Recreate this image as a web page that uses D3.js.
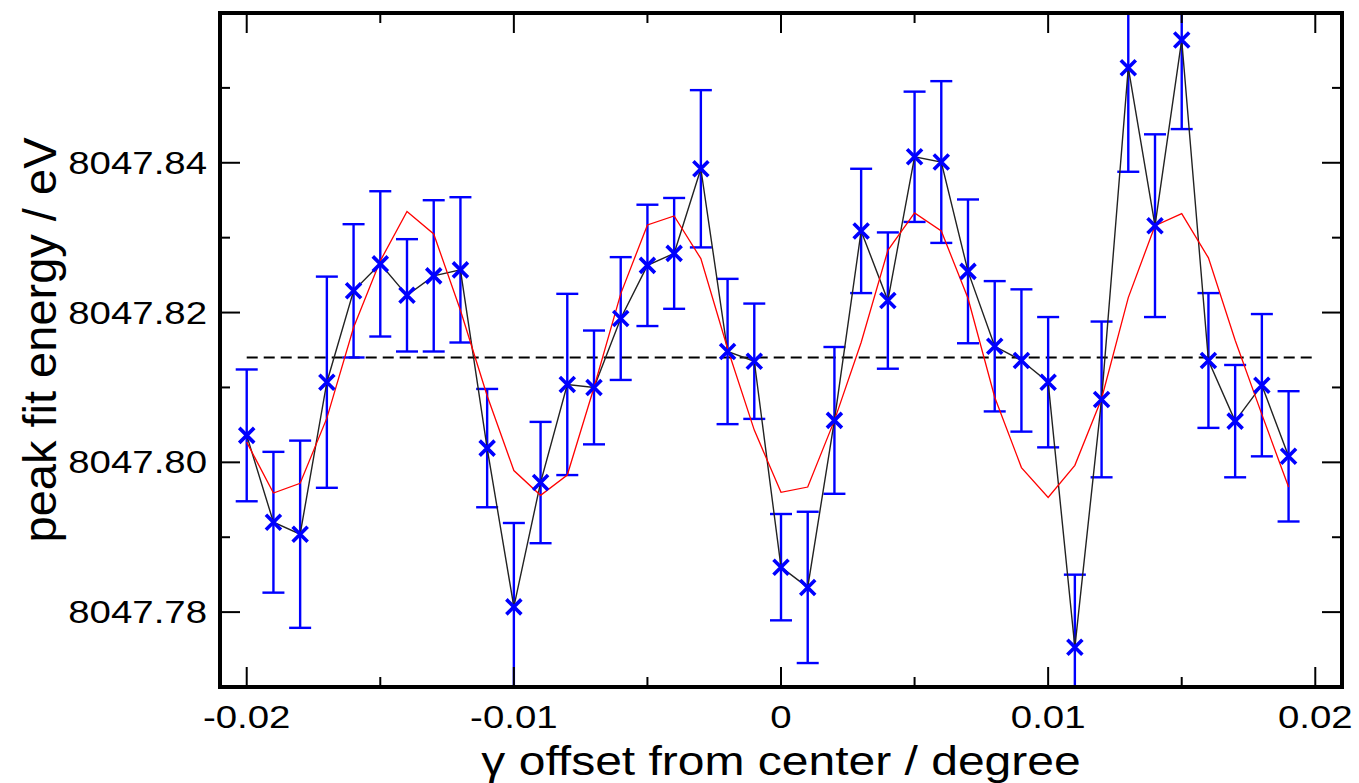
<!DOCTYPE html>
<html>
<head>
<meta charset="utf-8">
<script src="https://cdn.jsdelivr.net/npm/d3@7"></script>
<style>
  body { margin: 0; background: #fff; }
  text { font-family: "Liberation Sans", Arial, sans-serif; fill: #000; }
</style>
</head>
<body>
<script>
// ----- DATA -----
const xOffsets = [-0.020, -0.019, -0.018, -0.017, -0.016, -0.015, -0.014, -0.013, -0.012, -0.011,
  -0.010, -0.009, -0.008, -0.007, -0.006, -0.005, -0.004, -0.003, -0.002, -0.001,
  0.000, 0.001, 0.002, 0.003, 0.004, 0.005, 0.006, 0.007, 0.008, 0.009,
  0.010, 0.011, 0.012, 0.013, 0.014, 0.015, 0.016, 0.017, 0.018, 0.019];

const peakEnergy = [8047.8036, 8047.7920, 8047.7904, 8047.8107, 8047.8229, 8047.8265, 8047.8223, 8047.8249, 8047.8257, 8047.8019,
  8047.7807, 8047.7973, 8047.8104, 8047.8100, 8047.8192, 8047.8263, 8047.8279, 8047.8392, 8047.8148, 8047.8135,
  8047.7860, 8047.7833, 8047.8056, 8047.8309, 8047.8216, 8047.8408, 8047.8401, 8047.8255, 8047.8155, 8047.8136,
  8047.8107, 8047.7753, 8047.8084, 8047.8527, 8047.8316, 8047.8564, 8047.8136, 8047.8055, 8047.8103, 8047.8008];

const peakError = [0.0088, 0.0094, 0.0125, 0.0141, 0.0089, 0.0097, 0.0075, 0.0101, 0.0097, 0.0079,
  0.0112, 0.0081, 0.0121, 0.0076, 0.0082, 0.0081, 0.0074, 0.0105, 0.0097, 0.0077,
  0.0071, 0.0101, 0.0098, 0.0083, 0.0091, 0.0087, 0.0108, 0.0096, 0.0087, 0.0095,
  0.0087, 0.0097, 0.0104, 0.0139, 0.0122, 0.0119, 0.0090, 0.0075, 0.0095, 0.0087];

const fitCurve = [8047.8027, 8047.7959, 8047.7972, 8047.8059, 8047.8180, 8047.8269, 8047.8335, 8047.8305, 8047.8203, 8047.8089,
  8047.7989, 8047.7956, 8047.7983, 8047.8100, 8047.8225, 8047.8317, 8047.8329, 8047.8272, 8047.8152, 8047.8043,
  8047.7960, 8047.7967, 8047.8056, 8047.8160, 8047.8283, 8047.8333, 8047.8309, 8047.8219, 8047.8087, 8047.7993,
  8047.7953, 8047.7996, 8047.8085, 8047.8220, 8047.8316, 8047.8332, 8047.8273, 8047.8163, 8047.8064, 8047.7967];

const meanEnergy = 8047.814;
const meanRange = [-0.02, 0.02];

const xMajorTicks = [-0.02, -0.01, 0, 0.01, 0.02];
const xTickLabels = ["-0.02", "-0.01", "0", "0.01", "0.02"];
const xMinorTicks = [-0.015, -0.005, 0.005, 0.015];
const yMajorTicks = [8047.78, 8047.80, 8047.82, 8047.84];
const yTickLabels = ["8047.78", "8047.80", "8047.82", "8047.84"];
const yMinorTicks = [8047.77, 8047.79, 8047.81, 8047.83, 8047.85];

const w = 1359;
const h = 783;
const plotLeft = 220, plotRight = 1342, plotTop = 13, plotBottom = 687;
const stretch = 1.2; // tick labels in the picture are a bit wide

// ----- SCALES -----
const xScale = d3.scaleLinear().domain([-0.021, 0.021]).range([plotLeft, plotRight]);
const yScale = d3.scaleLinear().domain([8047.77, 8047.86]).range([plotBottom, plotTop]);

const points = xOffsets.map((x, i) => ({ x: x, y: peakEnergy[i], e: peakError[i], f: fitCurve[i] }));

// ----- SVG -----
const svg = d3.select("body").append("svg")
  .attr("width", w)
  .attr("height", h);

svg.append("clipPath").attr("id", "plot-clip")
  .append("rect")
  .attr("x", plotLeft).attr("y", plotTop)
  .attr("width", plotRight - plotLeft).attr("height", plotBottom - plotTop);

const plot = svg.append("g").attr("clip-path", "url(#plot-clip)");

// dashed mean line
plot.append("line")
  .attr("x1", xScale(meanRange[0])).attr("x2", xScale(meanRange[1]))
  .attr("y1", yScale(meanEnergy)).attr("y2", yScale(meanEnergy))
  .attr("stroke", "#000")
  .attr("stroke-width", 2.2)
  .attr("stroke-dasharray", "11,6");

// ----- ERROR BARS -----
const bars = plot.selectAll(".err").data(points).enter().append("g").attr("class", "err")
  .attr("stroke", "#0000ff").attr("stroke-width", 2.4).attr("fill", "none");

bars.append("line")
  .attr("x1", d => xScale(d.x)).attr("x2", d => xScale(d.x))
  .attr("y1", d => yScale(d.y - d.e)).attr("y2", d => yScale(d.y + d.e));

bars.append("line") // top cap
  .attr("x1", d => xScale(d.x) - 11).attr("x2", d => xScale(d.x) + 11)
  .attr("y1", d => yScale(d.y + d.e)).attr("y2", d => yScale(d.y + d.e));

bars.append("line") // bottom cap
  .attr("x1", d => xScale(d.x) - 11).attr("x2", d => xScale(d.x) + 11)
  .attr("y1", d => yScale(d.y - d.e)).attr("y2", d => yScale(d.y - d.e));

// ----- LINES -----
const dataLine = d3.line().x(d => xScale(d.x)).y(d => yScale(d.y));
const fitLine = d3.line().x(d => xScale(d.x)).y(d => yScale(d.f));

plot.append("path")
  .datum(points)
  .attr("d", dataLine)
  .attr("fill", "none")
  .attr("stroke", "#222")
  .attr("stroke-width", 1.4);

plot.append("path")
  .datum(points)
  .attr("d", fitLine)
  .attr("fill", "none")
  .attr("stroke", "#ff0000")
  .attr("stroke-width", 1.3);

// ----- MARKERS (x symbols) -----
const cross = 7.5;
plot.selectAll(".mark").data(points).enter().append("path")
  .attr("class", "mark")
  .attr("d", d => {
    const cx = xScale(d.x), cy = yScale(d.y);
    return "M" + (cx - cross) + "," + (cy - cross) + "L" + (cx + cross) + "," + (cy + cross) +
      "M" + (cx - cross) + "," + (cy + cross) + "L" + (cx + cross) + "," + (cy - cross);
  })
  .attr("stroke", "#0000ff")
  .attr("stroke-width", 3.6)
  .attr("fill", "none");

// ----- TICKS (inward, all four sides) -----
const ticks = svg.append("g").attr("stroke", "#000").attr("stroke-width", 2);

function xTick(v, len) {
  ticks.append("line").attr("x1", xScale(v)).attr("x2", xScale(v)).attr("y1", plotBottom).attr("y2", plotBottom - len);
  ticks.append("line").attr("x1", xScale(v)).attr("x2", xScale(v)).attr("y1", plotTop).attr("y2", plotTop + len);
}
function yTick(v, len) {
  ticks.append("line").attr("y1", yScale(v)).attr("y2", yScale(v)).attr("x1", plotLeft).attr("x2", plotLeft + len);
  ticks.append("line").attr("y1", yScale(v)).attr("y2", yScale(v)).attr("x1", plotRight).attr("x2", plotRight - len);
}
xMajorTicks.forEach(v => xTick(v, 20));
xMinorTicks.forEach(v => xTick(v, 10));
yMajorTicks.forEach(v => yTick(v, 20));
yMinorTicks.forEach(v => yTick(v, 10));

// frame
svg.append("rect")
  .attr("x", plotLeft).attr("y", plotTop)
  .attr("width", plotRight - plotLeft).attr("height", plotBottom - plotTop)
  .attr("fill", "none")
  .attr("stroke", "#000")
  .attr("stroke-width", 4);

// ----- TICK LABELS -----
xMajorTicks.forEach((v, i) => {
  svg.append("text")
    .attr("transform", "translate(" + xScale(v) + "," + 728 + ") scale(" + stretch + ",1)")
    .attr("text-anchor", "middle")
    .style("font-size", "32px")
    .text(xTickLabels[i]);
});

yMajorTicks.forEach((v, i) => {
  svg.append("text")
    .attr("transform", "translate(" + 207 + "," + (yScale(v) + 11) + ") scale(" + stretch + ",1)")
    .attr("text-anchor", "end")
    .style("font-size", "32px")
    .text(yTickLabels[i]);
});

// ----- AXIS TITLES -----
svg.append("text")
  .attr("transform", "translate(" + xScale(0) + ",775) scale(" + stretch + ",1)")
  .attr("text-anchor", "middle")
  .style("font-size", "40px")
  .text("γ offset from center / degree");

svg.append("text")
  .attr("transform", "translate(56,340) rotate(-90)")
  .attr("text-anchor", "middle")
  .style("font-size", "47px")
  .text("peak fit energy / eV");
</script>
</body>
</html>
